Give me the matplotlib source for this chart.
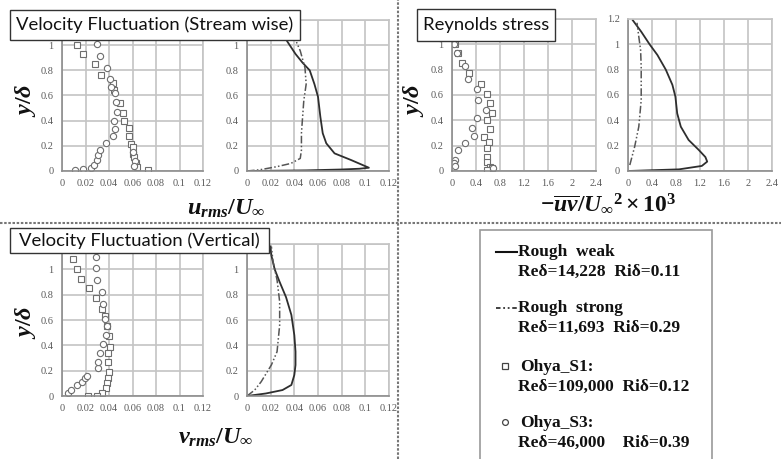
import numpy as np
import matplotlib
matplotlib.use("Agg")
import matplotlib.pyplot as plt
from matplotlib.patches import Rectangle
from matplotlib.lines import Line2D
from matplotlib.ticker import FuncFormatter, MultipleLocator

plt.rcParams['mathtext.fontset'] = 'custom'
plt.rcParams['mathtext.it'] = 'Liberation Serif:bold:italic'
plt.rcParams['mathtext.rm'] = 'Liberation Serif:bold'
plt.rcParams['mathtext.bf'] = 'Liberation Serif:bold'

# ---- streamwise fluctuation u_rms/U_inf ----
u_s1_x = [0.013, 0.0176, 0.0278, 0.0332, 0.043, 0.044, 0.0496, 0.052, 0.053, 0.0567, 0.0567, 0.059, 0.060, 0.0607, 0.061, 0.063, 0.064, 0.073]
u_s1_y = [1.0, 0.93, 0.85, 0.766, 0.70, 0.645, 0.54, 0.46, 0.40, 0.345, 0.276, 0.213, 0.187, 0.134, 0.108, 0.066, 0.034, 0.008]
u_s3_x = [0.011, 0.018, 0.025, 0.0275, 0.0295, 0.031, 0.032, 0.0375, 0.043, 0.045, 0.044, 0.0465, 0.046, 0.045, 0.042, 0.041, 0.038, 0.032, 0.030, 0.060, 0.062, 0.061]
u_s3_y = [0.008, 0.013, 0.02, 0.05, 0.087, 0.126, 0.17, 0.224, 0.276, 0.337, 0.40, 0.47, 0.547, 0.618, 0.67, 0.73, 0.82, 0.916, 1.01, 0.15, 0.08, 0.04]
u_weak_x = [0.0, 0.05, 0.08, 0.095, 0.103, 0.088, 0.074, 0.067, 0.064, 0.062, 0.060, 0.057, 0.053, 0.047, 0.041, 0.034, 0.030]
u_weak_y = [0.0, 0.005, 0.012, 0.018, 0.026, 0.087, 0.14, 0.22, 0.30, 0.43, 0.59, 0.69, 0.80, 0.86, 0.93, 1.03, 1.10]
u_strong_x = [0.0, 0.011, 0.025, 0.037, 0.045, 0.046, 0.046, 0.047, 0.048, 0.050, 0.049, 0.045, 0.042, 0.040]
u_strong_y = [0.0, 0.01, 0.034, 0.06, 0.10, 0.166, 0.30, 0.43, 0.56, 0.69, 0.82, 0.955, 1.02, 1.10]

# ---- Reynolds stress -uv/U_inf^2 x 10^3 ----
uv_s1_x = [0.05, 0.094, 0.16, 0.28, 0.49, 0.58, 0.63, 0.66, 0.59, 0.63, 0.54, 0.62, 0.59, 0.58, 0.59, 0.63, 0.66, 0.58]
uv_s1_y = [1.0, 0.93, 0.85, 0.77, 0.69, 0.61, 0.54, 0.46, 0.40, 0.33, 0.27, 0.23, 0.18, 0.11, 0.074, 0.034, 0.02, 0.008]
uv_s3_x = [0.04, 0.08, 0.22, 0.27, 0.42, 0.44, 0.57, 0.41, 0.34, 0.36, 0.22, 0.106, 0.055, 0.04, 0.05, 0.69]
uv_s3_y = [1.0, 0.93, 0.83, 0.73, 0.645, 0.56, 0.48, 0.416, 0.337, 0.276, 0.224, 0.166, 0.09, 0.06, 0.04, 0.02]
uv_weak_x = [0.0, 0.85, 1.23, 1.32, 1.29, 1.18, 1.01, 0.88, 0.82, 0.79, 0.74, 0.63, 0.49, 0.36, 0.22, 0.08]
uv_weak_y = [0.0, 0.013, 0.04, 0.074, 0.11, 0.166, 0.245, 0.35, 0.455, 0.587, 0.68, 0.80, 0.916, 1.0, 1.1, 1.19]
uv_strong_x = [0.03, 0.11, 0.18, 0.22, 0.22, 0.21, 0.18, 0.15]
uv_strong_y = [0.047, 0.19, 0.35, 0.56, 0.82, 0.955, 1.06, 1.17]

# ---- vertical fluctuation v_rms/U_inf ----
v_s1_x = [0.0096, 0.013, 0.016, 0.023, 0.029, 0.034, 0.037, 0.038, 0.040, 0.041, 0.0395, 0.0395, 0.040, 0.0395, 0.0386, 0.0375, 0.034, 0.0295, 0.022]
v_s1_y = [1.08, 1.0, 0.92, 0.85, 0.776, 0.69, 0.63, 0.55, 0.47, 0.39, 0.337, 0.27, 0.19, 0.14, 0.10, 0.06, 0.02, 0.003, 0.003]
v_s3_x = [0.0054, 0.008, 0.013, 0.017, 0.0196, 0.0215, 0.031, 0.031, 0.032, 0.035, 0.0375, 0.0386, 0.0366, 0.035, 0.034, 0.030, 0.029, 0.029]
v_s3_y = [0.02, 0.047, 0.087, 0.113, 0.14, 0.16, 0.218, 0.27, 0.337, 0.41, 0.48, 0.55, 0.61, 0.73, 0.82, 0.916, 1.01, 1.10]
v_weak_x = [0.0, 0.016, 0.030, 0.0375, 0.040, 0.041, 0.041, 0.040, 0.0375, 0.033, 0.0276, 0.0234, 0.0206, 0.0197]
v_weak_y = [0.0, 0.02, 0.047, 0.087, 0.166, 0.245, 0.35, 0.48, 0.64, 0.78, 0.90, 1.0, 1.11, 1.18]
v_strong_x = [0.0, 0.0065, 0.012, 0.0206, 0.0254, 0.0276, 0.0276, 0.0254, 0.022, 0.0206]
v_strong_y = [0.0, 0.047, 0.113, 0.245, 0.35, 0.56, 0.745, 0.916, 1.06, 1.18]

W, H = 781, 459
fig = plt.figure(figsize=(W / 100, H / 100), dpi=100)

grid_c = '#c4c4c4'
tick_c = '#5a5a5a'
mark_c = '#6e6e6e'
line_c = '#2e2e2e'
strong_style = (0, (5, 1.5, 1, 1.5, 1, 1.5))


def px_axes(x0, x1, ytop, ybot, xmax, xstep, show_top=False):
    ax = fig.add_axes([x0 / W, (H - ybot) / H, (x1 - x0) / W, (ybot - ytop) / H])
    ax.set_xlim(0, xmax)
    ax.set_ylim(0, 1.2)
    ax.xaxis.set_major_locator(MultipleLocator(xstep))
    ax.yaxis.set_major_locator(MultipleLocator(0.2))
    ax.xaxis.set_major_formatter(FuncFormatter(lambda v, p: '%g' % round(v, 4)))
    # the 1.2 label sits under the title boxes except in the last panel
    ax.yaxis.set_major_formatter(FuncFormatter(
        lambda v, p: '' if (v > 1.1 and not show_top) else '%g' % round(v, 4)))
    ax.grid(True, color=grid_c, lw=1.2)
    ax.set_axisbelow(True)
    for s in ax.spines.values():
        s.set_color(grid_c)
        s.set_linewidth(1.2)
    ax.spines['left'].set_color('#8c8c8c')
    ax.spines['bottom'].set_color('#8c8c8c')
    ax.tick_params(length=0, pad=6, labelsize=7.5, labelcolor=tick_c,
                   labelfontfamily='Liberation Serif')
    return ax


def scatter_pair(ax, sx, sy, cx, cy):
    ax.plot(sx, sy, ls='none', marker='s', ms=4.5, mfc='white', mec=mark_c, mew=0.8)
    ax.plot(cx, cy, ls='none', marker='o', ms=4.5, mfc='white', mec=mark_c, mew=0.8)


def line_pair(ax, wx, wy, sx, sy):
    ax.plot(wx, wy, color=line_c, lw=1.3)
    ax.plot(sx, sy, color='#555555', lw=1.1, ls=strong_style)


# top-left: streamwise
ax1 = px_axes(62, 203, 20, 171, 0.12, 0.02)
scatter_pair(ax1, u_s1_x, u_s1_y, u_s3_x, u_s3_y)
ax2 = px_axes(247, 389, 20, 171, 0.12, 0.02)
line_pair(ax2, u_weak_x, u_weak_y, u_strong_x, u_strong_y)

# top-right: Reynolds stress
ax3 = px_axes(452, 596, 19, 171, 2.4, 0.4)
scatter_pair(ax3, uv_s1_x, uv_s1_y, uv_s3_x, uv_s3_y)
ax4 = px_axes(628, 772, 19, 171, 2.4, 0.4, show_top=True)
line_pair(ax4, uv_weak_x, uv_weak_y, uv_strong_x, uv_strong_y)

# bottom-left: vertical
ax5 = px_axes(62, 203, 244, 396, 0.12, 0.02)
scatter_pair(ax5, v_s1_x, v_s1_y, v_s3_x, v_s3_y)
ax6 = px_axes(247, 389, 244, 396, 0.12, 0.02)
line_pair(ax6, v_weak_x, v_weak_y, v_strong_x, v_strong_y)


def fx(x):
    return x / W


def fy(y):
    return (H - y) / H


def title_box(x0, x1, y0, y1, text):
    fig.patches.append(Rectangle((fx(x0), fy(y1)), fx(x1) - fx(x0), fy(y0) - fy(y1),
                                 transform=fig.transFigure, facecolor='white',
                                 edgecolor='#333333', lw=1.0, zorder=5))
    fig.text(fx((x0 + x1) / 2), fy((y0 + y1) / 2), text, ha='center', va='center',
             fontsize=13.3, family='Lato', color='#111111', zorder=6)


title_box(10, 300, 10, 40, 'Velocity Fluctuation (Stream wise)')
title_box(417, 555, 9, 41, 'Reynolds stress')
title_box(10, 269, 228, 253, 'Velocity Fluctuation (Vertical)')

# axis labels
lab_kw = dict(ha='center', va='center', fontsize=17.5, color='#111111')
fig.text(fx(226), fy(208), r'$u_{rms}/U_{\infty}$', **lab_kw)
fig.text(fx(608), fy(203), r'$\mathbf{-}\overline{uv}/{U_{\infty}}^{2}\times\mathrm{10}^{3}$',
         ha='center', va='center', fontsize=17, color='#111111')
fig.text(fx(216), fy(437), r'$v_{rms}/U_{\infty}$', **lab_kw)
for (x, y) in [(25, 100), (413, 100), (25, 322)]:
    fig.text(fx(x), fy(y), r'$y/\delta$', rotation=90, **lab_kw)

# dotted dividers
fig.lines.append(Line2D([0, 1], [fy(223), fy(223)], transform=fig.transFigure,
                        color='#777777', lw=1.5, ls=(0, (1.2, 0.8)), zorder=4))
fig.lines.append(Line2D([fx(398), fx(398)], [0, 1], transform=fig.transFigure,
                        color='#777777', lw=1.5, ls=(0, (1.2, 0.8)), zorder=4))

# legend panel
fig.patches.append(Rectangle((fx(480), fy(470)), fx(712) - fx(480), fy(230) - fy(470),
                             transform=fig.transFigure, facecolor='white',
                             edgecolor='#9a9a9a', lw=1.2, zorder=5))
leg_kw = dict(ha='left', va='center', fontsize=12.5, family='Liberation Serif',
              weight='bold', color='#111111', zorder=6)
entries = [
    ('Rough  weak', 'Reδ=14,228  Riδ=0.11', 252),
    ('Rough  strong', 'Reδ=11,693  Riδ=0.29', 308),
    ('Ohya_S1:', 'Reδ=109,000  Riδ=0.12', 367),
    ('Ohya_S3:', 'Reδ=46,000    Riδ=0.39', 423),
]
for i, (name, params, y) in enumerate(entries):
    x_text = 518 if i < 2 else 520
    fig.text(fx(x_text), fy(y), name, **leg_kw)
    fig.text(fx(518), fy(y + 20), params, **leg_kw)
fig.lines.append(Line2D([fx(496), fx(517)], [fy(252), fy(252)], transform=fig.transFigure,
                        color='#111111', lw=1.5, zorder=6))
fig.lines.append(Line2D([fx(496), fx(517)], [fy(308), fy(308)], transform=fig.transFigure,
                        color='#333333', lw=1.3, ls=(0, (2.5, 1.5, 1, 1.5, 1, 1.5)), zorder=6))
fig.lines.append(Line2D([fx(505)], [fy(366)], transform=fig.transFigure, marker='s',
                        ms=4.2, mfc='white', mec='#444444', mew=0.9, zorder=6))
fig.lines.append(Line2D([fx(505)], [fy(422)], transform=fig.transFigure, marker='o',
                        ms=4.2, mfc='white', mec='#444444', mew=0.9, zorder=6))

fig.savefig('out.png', dpi=100)
